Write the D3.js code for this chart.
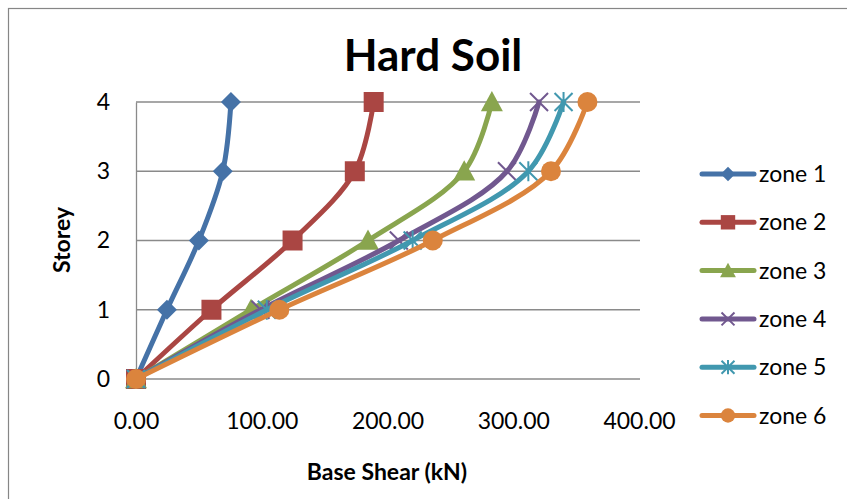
<!DOCTYPE html>
<html>
<head>
<meta charset="utf-8">
<script src="https://cdn.jsdelivr.net/npm/d3@7/dist/d3.min.js"></script>
<style>
  body { margin: 0; background: #fff; }
  svg { display: block; font-family: Lato, "Open Sans", sans-serif; }
</style>
</head>
<body>
<svg id="chart" width="847" height="499"></svg>
<script>
// Storey levels and base shear (kN) per seismic zone
const storeys = [0, 1, 2, 3, 4];
const seriesNames = ["zone 1", "zone 2", "zone 3", "zone 4", "zone 5", "zone 6"];
const zone1 = [0, 24.6, 50, 69, 75.5];
const zone2 = [0, 60, 124.5, 174, 189];
const zone3 = [0, 91.5, 184.5, 261, 283];
const zone4 = [0, 99, 209, 295, 320.5];
const zone5 = [0, 104, 220, 312, 340];
const zone6 = [0, 114, 236, 330, 359];
const xTicks = [0, 100, 200, 300, 400];
const yTicks = [0, 1, 2, 3, 4];

const seriesValues = [zone1, zone2, zone3, zone4, zone5, zone6];
const colors = ["#4572A7", "#AA4643", "#89A54E", "#71588F", "#4198AF", "#DB843D"];
const markerKinds = ["diamond", "square", "triangle", "cross", "star", "circle"];

const svg = d3.select("#chart");

// outer chart frame
svg.append("rect")
  .attr("x", 8.5).attr("y", 8.5)
  .attr("width", 900).attr("height", 600)
  .attr("fill", "none").attr("stroke", "#868686").attr("stroke-width", 1.2);

const x = d3.scaleLinear().domain([0, 400]).range([136, 639]);
const y = d3.scaleLinear().domain([0, 4]).range([379, 102]);

// horizontal gridlines
svg.append("g").selectAll("line").data(yTicks).join("line")
  .attr("x1", x(0)).attr("x2", x(400) + 1)
  .attr("y1", d => y(d)).attr("y2", d => y(d))
  .attr("stroke", "#8a8a8a").attr("stroke-width", 1.3);

// left axis
const yAxis = svg.append("g")
  .attr("transform", `translate(${x(0)},0)`)
  .call(d3.axisLeft(y).tickValues(yTicks).tickSize(0).tickPadding(26).tickFormat(d3.format("d")));
yAxis.select(".domain").attr("stroke", "#8a8a8a").attr("stroke-width", 1.3);
yAxis.selectAll("text").attr("font-size", 23).attr("fill", "#000")
  .attr("font-family", "Lato, sans-serif");

// bottom axis labels
const xAxis = svg.append("g")
  .attr("transform", `translate(0,${y(0)})`)
  .call(d3.axisBottom(x).tickValues(xTicks).tickSize(0).tickPadding(34).tickFormat(d3.format(".2f")));
xAxis.select(".domain").remove();
xAxis.selectAll("text").attr("font-size", 23).attr("fill", "#000")
  .attr("font-family", "Lato, sans-serif");

// titles
svg.append("text").attr("x", 433).attr("y", 71).attr("text-anchor", "middle")
  .attr("font-size", 44).attr("font-weight", "bold").text("Hard Soil");
svg.append("text").attr("x", 387).attr("y", 480).attr("text-anchor", "middle")
  .attr("font-size", 23).attr("font-weight", "bold").text("Base Shear (kN)");
svg.append("text").attr("transform", "translate(70,240) rotate(-90)").attr("text-anchor", "middle")
  .attr("font-size", 23).attr("font-weight", "bold").text("Storey");

// marker shapes
function markerPath(kind, r) {
  switch (kind) {
    case "diamond": return `M0,${-r}L${r},0L0,${r}L${-r},0Z`;
    case "square": return `M${-r},${-r}H${r}V${r}H${-r}Z`;
    case "triangle": return `M0,${-r}L${r},${r * 0.85}L${-r},${r * 0.85}Z`;
    case "cross": return `M${-r},${-r}L${r},${r}M${-r},${r}L${r},${-r}`;
    case "star": return `M${-r},${-r}L${r},${r}M${-r},${r}L${r},${-r}M0,${-r * 1.1}V${r * 1.1}`;
    case "circle": return `M${r},0A${r},${r} 0 1 1 ${-r},0A${r},${r} 0 1 1 ${r},0Z`;
  }
}
function drawMarker(g, kind, color, r) {
  const open = kind === "cross" || kind === "star";
  g.append("path").attr("d", markerPath(kind, r))
    .attr("fill", open ? "none" : color)
    .attr("stroke", color)
    .attr("stroke-width", open ? 2 : 0);
}

const line = d3.line()
  .x(d => x(d[0]))
  .y(d => y(d[1]))
  .curve(d3.curveCatmullRom.alpha(0.5));

const markerSize = [10, 10, 11, 9, 9, 10];

seriesValues.forEach((vals, i) => {
  const pts = vals.map((v, k) => [v, storeys[k]]);
  const g = svg.append("g");
  g.append("path").datum(pts).attr("d", line)
    .attr("fill", "none").attr("stroke", colors[i])
    .attr("stroke-width", 5).attr("stroke-linejoin", "round").attr("stroke-linecap", "round");
  pts.forEach(p => {
    const mg = g.append("g").attr("transform", `translate(${x(p[0])},${y(p[1])})`);
    drawMarker(mg, markerKinds[i], colors[i], markerSize[i]);
  });
});

// legend
seriesNames.forEach((name, i) => {
  const ly = 174 + i * 48.3;
  const g = svg.append("g");
  g.append("line").attr("x1", 702).attr("x2", 754).attr("y1", ly).attr("y2", ly)
    .attr("stroke", colors[i]).attr("stroke-width", 5).attr("stroke-linecap", "round");
  const mg = g.append("g").attr("transform", `translate(728,${ly})`);
  drawMarker(mg, markerKinds[i], colors[i], markerSize[i] * 0.72);
  g.append("text").attr("x", 759).attr("y", ly).attr("dy", "0.35em")
    .attr("font-size", 23).attr("fill", "#000").text(name);
});
</script>
</body>
</html>
